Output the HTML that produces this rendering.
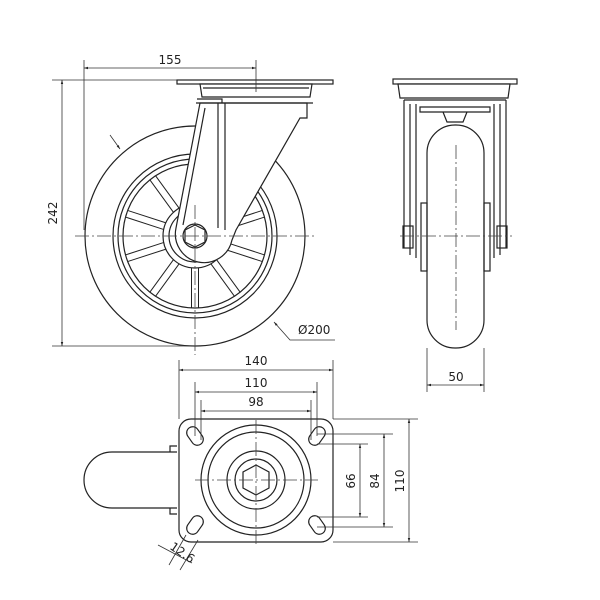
<!DOCTYPE html>
<html><head><style>body{margin:0;background:#fff}svg{display:block}text{font-family:"DejaVu Sans","Liberation Sans",sans-serif;font-size:12px;fill:#222}</style></head>
<body>
<svg width="600" height="600" viewBox="0 0 600 600" xmlns="http://www.w3.org/2000/svg">
<defs><marker id="a" viewBox="0 0 10 10" refX="10" refY="5" markerWidth="7" markerHeight="5" orient="auto-start-reverse"><path d="M0,2 L10,5 L0,8z" fill="#222"/></marker></defs>
<g fill="none" stroke="#222" stroke-width="1.2">
<!-- side view wheel -->
<circle cx="195" cy="236" r="110"/>
<circle cx="195" cy="236" r="82"/>
<circle cx="195" cy="236" r="77"/>
<circle cx="195" cy="236" r="72"/>
<circle cx="195" cy="236" r="32"/>
<circle cx="195" cy="236" r="26"/>
<g stroke-width="1">
<g transform="rotate(18 195 236)"><path d="M227,232.5 L267,232.5 M227,239.5 L267,239.5"/></g>
<g transform="rotate(54 195 236)"><path d="M227,232.5 L267,232.5 M227,239.5 L267,239.5"/></g>
<g transform="rotate(90 195 236)"><path d="M227,232.5 L267,232.5 M227,239.5 L267,239.5"/></g>
<g transform="rotate(126 195 236)"><path d="M227,232.5 L267,232.5 M227,239.5 L267,239.5"/></g>
<g transform="rotate(162 195 236)"><path d="M227,232.5 L267,232.5 M227,239.5 L267,239.5"/></g>
<g transform="rotate(198 195 236)"><path d="M227,232.5 L267,232.5 M227,239.5 L267,239.5"/></g>
<g transform="rotate(234 195 236)"><path d="M227,232.5 L267,232.5 M227,239.5 L267,239.5"/></g>
<g transform="rotate(270 195 236)"><path d="M227,232.5 L267,232.5 M227,239.5 L267,239.5"/></g>
<g transform="rotate(306 195 236)"><path d="M227,232.5 L267,232.5 M227,239.5 L267,239.5"/></g>
<g transform="rotate(342 195 236)"><path d="M227,232.5 L267,232.5 M227,239.5 L267,239.5"/></g>
</g>
<!-- fork -->
<path d="M200,103 L176,228 A26,26 0 0 0 232,240 L236,230 L300,118 L307,118 L307,103 Z" fill="#fff"/>
<path d="M205,108 L183,225"/>
<circle cx="195" cy="236" r="12" fill="#fff"/>
<polygon points="195,225 205,230 205,242 195,247 185,242 185,230" fill="#fff"/>
<path d="M218,103 L218,228 M225,103 L225,230 M196,103 L313,103 M197,99 L222,99 L222,103"/>
<rect x="177" y="80" width="156" height="4" fill="#fff"/>
<path d="M200,84 L312,84 L310,97 L202,97 Z" fill="#fff"/>
<path d="M203,88 L309,88"/>
<!-- right view -->
<rect x="393" y="79" width="124" height="5" fill="#fff"/>
<path d="M398,84 L510,84 L508,98 L400,98 Z" fill="#fff"/>
<path d="M404,100 L506,100 M404,100 L404,248 M506,100 L506,248 M410,104 L410,255 M500,104 L500,255 M416,104 L416,258 M494,104 L494,258"/>
<path d="M420,107 L490,107 L490,112 L420,112 Z M443,112 L447,122 L463,122 L467,112"/>
<rect x="427" y="125" width="57" height="223" rx="28" fill="#fff"/>
<rect x="421" y="203" width="6" height="68"/><rect x="484" y="203" width="6" height="68"/>
<rect x="403" y="226" width="10" height="22"/><rect x="497" y="226" width="10" height="22"/>
<!-- bottom view wheel -->
<path d="M177,452 L112,452 A28,28 0 0 0 112,508 L177,508"/>
<path d="M177,446 L170,446 L170,452 M177,514 L170,514 L170,508"/>
<rect x="179" y="419" width="154" height="123" rx="12" fill="#fff"/>
<circle cx="256" cy="480" r="55"/><circle cx="256" cy="480" r="48"/>
<circle cx="256" cy="480" r="29"/><circle cx="256" cy="480" r="21"/>
<polygon points="256,465 269,472 269,488 256,495 243,488 243,472"/>
<g transform="translate(195,436) rotate(55)"><rect x="-10" y="-6" width="20" height="12" rx="6"/></g>
<g transform="translate(317,436) rotate(-55)"><rect x="-10" y="-6" width="20" height="12" rx="6"/></g>
<g transform="translate(195,525) rotate(-55)"><rect x="-10" y="-6" width="20" height="12" rx="6"/></g>
<g transform="translate(317,525) rotate(55)"><rect x="-10" y="-6" width="20" height="12" rx="6"/></g>
</g>
<!-- center lines -->
<g stroke="#444" stroke-width="0.8" stroke-dasharray="14,3,2,3" fill="none">
<path d="M75,236 L315,236 M195,205 L195,355 M456,145 L456,330 M400,236 L512,236 M256,420 L256,545 M195,480 L318,480"/>
</g>
<!-- dimension lines -->
<g stroke="#333" stroke-width="0.8" fill="none">
<path d="M52,80 L177,80 M52,346 L195,346 M84,60 L84,230 M256,60 L256,92"/>
<path d="M62,80 L62,346" marker-start="url(#a)" marker-end="url(#a)"/>
<path d="M84,68 L256,68" marker-start="url(#a)" marker-end="url(#a)"/>
<path d="M110,135 L120,149" marker-end="url(#a)"/>
<path d="M335,340 L290,340 L274,322" marker-end="url(#a)"/>
<path d="M427,348 L427,392 M484,348 L484,392"/>
<path d="M427,385 L484,385" marker-start="url(#a)" marker-end="url(#a)"/>
<path d="M179,360 L179,419 M333,360 L333,419 M195,382 L195,436 M317,382 L317,436 M201,400 L201,440 M311,400 L311,440"/>
<path d="M179,370 L333,370" marker-start="url(#a)" marker-end="url(#a)"/>
<path d="M195,392 L317,392" marker-start="url(#a)" marker-end="url(#a)"/>
<path d="M201,411 L311,411" marker-start="url(#a)" marker-end="url(#a)"/>
<path d="M333,419 L418,419 M333,542 L418,542 M317,434 L393,434 M317,527 L393,527 M317,444 L368,444 M317,517 L368,517"/>
<path d="M360,444 L360,517" marker-start="url(#a)" marker-end="url(#a)"/>
<path d="M384,434 L384,527" marker-start="url(#a)" marker-end="url(#a)"/>
<path d="M409,419 L409,542" marker-start="url(#a)" marker-end="url(#a)"/>
<path d="M186,535 L169,565 M198,540 L180,570 M158,545 L192,563"/>
</g>
<text x="170" y="64" text-anchor="middle">155</text>
<text transform="translate(57,213) rotate(-90)" text-anchor="middle">242</text>
<text x="298" y="334">Ø200</text>
<text x="456" y="381" text-anchor="middle">50</text>
<text x="256" y="365" text-anchor="middle">140</text>
<text x="256" y="387" text-anchor="middle">110</text>
<text x="256" y="406" text-anchor="middle">98</text>
<text transform="translate(355,481) rotate(-90)" text-anchor="middle">66</text>
<text transform="translate(379,481) rotate(-90)" text-anchor="middle">84</text>
<text transform="translate(404,481) rotate(-90)" text-anchor="middle">110</text>
<text transform="translate(180,556) rotate(35)" text-anchor="middle">12.6</text>
</svg>
</body></html>
